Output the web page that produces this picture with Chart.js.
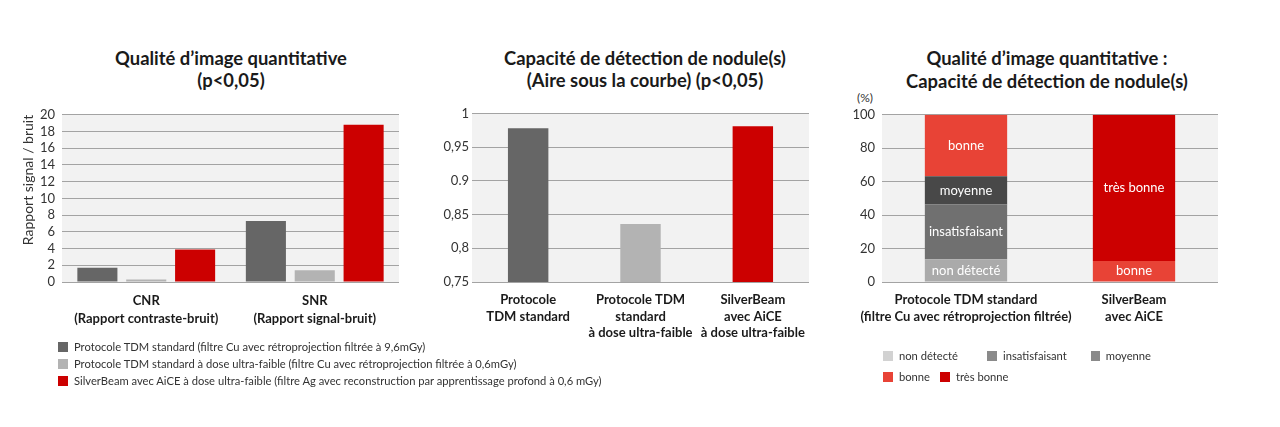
<!DOCTYPE html>
<html>
<head>
<meta charset="utf-8">
<script src="https://cdn.jsdelivr.net/npm/chart.js@4.4.1/dist/chart.umd.min.js"></script>
<style>
  body { margin: 0; background: #fff; width: 1280px; height: 427px; position: relative; overflow: hidden;
         font-family: Lato, "Open Sans", sans-serif; color: #222; }
  .title { position: absolute; width: 400px; text-align: center; font-weight: bold; font-size: 18.4px; line-height: 22px; color: #1a1a1a; }
  canvas { position: absolute; }
  .legend { position: absolute; font-size: 11.2px; color: #333; }
  .legend .row { display: flex; align-items: center; height: 17px; white-space: nowrap; }
  .sw { display: inline-block; width: 10px; height: 10px; margin-right: 6px; }
  .pct { position: absolute; font-size: 12px; color: #333; }
</style>
</head>
<body>

<div class="title" style="left:31px;top:47px">Qualité d’image quantitative<br>(p&lt;0,05)</div>
<div class="title" style="left:445px;top:47px">Capacité de détection de nodule(s)<br>(Aire sous la courbe) (p&lt;0,05)</div>
<div class="title" style="left:847px;top:47px;line-height:23px">Qualité d’image quantitative :<br>Capacité de détection de nodule(s)</div>
<div class="pct" style="left:857px;top:90px">(%)</div>

<canvas id="chartQual" width="393" height="250" style="left:17px;top:100px"></canvas>
<canvas id="chartAuc" width="410" height="250" style="left:410px;top:100px"></canvas>
<canvas id="chartNodule" width="410" height="250" style="left:820px;top:100px"></canvas>

<div class="legend" id="legendQual" style="left:58px;top:338px"></div>
<div class="legend" id="legendNodule" style="left:883px;top:345px"></div>

<script>
// --- données ---
const qualCategories = [['CNR', '(Rapport contraste-bruit)'], ['SNR', '(Rapport signal-bruit)']];
const protocolNames = [
  'Protocole TDM standard (filtre Cu avec rétroprojection filtrée à 9,6mGy)',
  'Protocole TDM standard à dose ultra-faible (filtre Cu avec rétroprojection filtrée à 0,6mGy)',
  'SilverBeam avec AiCE à dose ultra-faible (filtre Ag avec reconstruction par apprentissage profond à 0,6 mGy)'
];
const protocolColors = ['#666666', '#b3b3b3', '#cc0000'];
const qualStandard = [1.7, 7.3];
const qualUltraLow = [0.3, 1.4];
const qualSilverBeam = [3.9, 18.8];

const aucCategories = [
  ['Protocole', 'TDM standard'],
  ['Protocole TDM', 'standard', 'à dose ultra-faible'],
  ['SilverBeam', 'avec AiCE', 'à dose ultra-faible']
];
const aucValues = [0.978, 0.836, 0.981];
const aucTickLabels = ['0,75', '0,8', '0,85', '0.9', '0,95', '1'];

const noduleCategories = [['Protocole TDM standard', '(filtre Cu avec rétroprojection filtrée)'], ['SilverBeam', 'avec AiCE']];
const gradeNames = ['non détecté', 'insatisfaisant', 'moyenne', 'bonne', 'très bonne'];
const gradeColors = ['#aaaaaa', '#707070', '#484848', '#e84336', '#cc0000'];
const gradeLegendColors = ['#d2d2d2', '#8a8a8a', '#8a8a8a', '#e84336', '#cc0000'];
const nonDetecte = [13.6, 0];
const insatisfaisant = [32.8, 0];
const moyenne = [16.8, 0];
const bonne = [36.8, 12.6];
const tresBonne = [0, 87.4];

const FONT = 'Lato, "Open Sans", sans-serif';
const GRID = '#a3a3a3';

// fond gris de la zone de tracé
const plotBg = {
  id: 'plotBg',
  beforeDraw(chart) {
    const { ctx, chartArea: a } = chart;
    ctx.save();
    ctx.fillStyle = '#f2f2f2';
    ctx.fillRect(a.left, a.top, a.right - a.left, a.bottom - a.top);
    ctx.restore();
  }
};

// étiquettes blanches dans les segments empilés
const segmentLabels = {
  id: 'segmentLabels',
  afterDatasetsDraw(chart) {
    const ctx = chart.ctx;
    ctx.save();
    ctx.fillStyle = '#ffffff';
    ctx.font = '13px ' + FONT;
    ctx.textAlign = 'center';
    ctx.textBaseline = 'middle';
    chart.data.datasets.forEach((ds, i) => {
      chart.getDatasetMeta(i).data.forEach((bar, j) => {
        if (!ds.data[j]) return;
        ctx.fillText(ds.label, bar.x, (bar.y + bar.base) / 2);
      });
    });
    ctx.restore();
  }
};

function baseOptions(yWidth, rightPad) {
  return {
    responsive: false,
    animation: false,
    layout: { padding: { top: 13.5, right: rightPad, bottom: 0, left: 0 } },
    plugins: { legend: { display: false }, tooltip: { enabled: false } },
    scales: {
      x: {
        grid: { display: false },
        border: { display: false },
        ticks: { color: '#1a1a1a', padding: 2, autoSkip: false, maxRotation: 0, minRotation: 0,
                 font: { family: FONT, size: 13, weight: 'bold', lineHeight: 1.3 } },
        afterFit(scale) { scale.height = 68; }
      },
      y: {
        grid: { color: GRID, lineWidth: 1, drawTicks: false },
        border: { display: false },
        ticks: { color: '#333', padding: 7, autoSkip: false, font: { family: FONT, size: 13 } },
        afterFit(scale) { scale.width = yWidth; }
      }
    }
  };
}

// --- graphique 1 : CNR / SNR ---
const qualOpts = baseOptions(45, 11);
qualOpts.scales.y.min = 0;
qualOpts.scales.y.max = 20;
qualOpts.scales.y.ticks.stepSize = 2;
qualOpts.scales.y.title = { display: true, text: 'Rapport signal / bruit', align: 'end', color: '#333',
                            padding: { top: 3, bottom: 4 }, font: { family: FONT, size: 14 } };
qualOpts.scales.x.ticks.font.lineHeight = 1.4;
new Chart(document.getElementById('chartQual'), {
  type: 'bar',
  data: {
    labels: qualCategories,
    datasets: [qualStandard, qualUltraLow, qualSilverBeam].map((vals, i) => ({
      label: protocolNames[i],
      data: vals,
      backgroundColor: protocolColors[i],
      categoryPercentage: 0.87,
      barPercentage: 0.82
    }))
  },
  options: qualOpts,
  plugins: [plotBg]
});

// --- graphique 2 : aire sous la courbe ---
const aucOpts = baseOptions(62, 11);
aucOpts.scales.y.min = 0.75;
aucOpts.scales.y.max = 1;
aucOpts.scales.y.ticks.stepSize = 0.05;
aucOpts.scales.y.ticks.padding = 3;
aucOpts.scales.y.ticks.callback = (v, i) => aucTickLabels[i];
aucOpts.scales.x.ticks.font.lineHeight = 1.25;
new Chart(document.getElementById('chartAuc'), {
  type: 'bar',
  data: {
    labels: aucCategories,
    datasets: [{
      data: aucValues,
      backgroundColor: protocolColors,
      categoryPercentage: 1,
      barPercentage: 0.36
    }]
  },
  options: aucOpts,
  plugins: [plotBg]
});

// --- graphique 3 : répartition de la détection ---
const noduleOpts = baseOptions(62, 12);
noduleOpts.scales.x.stacked = true;
noduleOpts.scales.y.stacked = true;
noduleOpts.scales.y.min = 0;
noduleOpts.scales.y.max = 100;
noduleOpts.scales.y.ticks.stepSize = 20;
noduleOpts.scales.x.ticks.font.lineHeight = 1.25;
new Chart(document.getElementById('chartNodule'), {
  type: 'bar',
  data: {
    labels: noduleCategories,
    datasets: [nonDetecte, insatisfaisant, moyenne, bonne, tresBonne].map((vals, i) => ({
      label: gradeNames[i],
      data: vals,
      backgroundColor: gradeColors[i],
      categoryPercentage: 1,
      barPercentage: 0.49
    }))
  },
  options: noduleOpts,
  plugins: [plotBg, segmentLabels]
});

// --- légendes ---
const legendQual = document.getElementById('legendQual');
protocolNames.forEach((name, i) => {
  const row = document.createElement('div');
  row.className = 'row';
  row.innerHTML = '<span class="sw" style="background:' + protocolColors[i] + '"></span>' + name;
  legendQual.appendChild(row);
});

const legendNodule = document.getElementById('legendNodule');
const noduleRows = [[0, 1, 2], [3, 4]];
const noduleItemWidths = [[104, 104, 60], [57, 70]];
noduleRows.forEach((idx, r) => {
  const row = document.createElement('div');
  row.className = 'row';
  row.style.height = '21px';
  idx.forEach((g, k) => {
    const item = document.createElement('span');
    item.style.display = 'inline-flex';
    item.style.alignItems = 'center';
    item.style.width = noduleItemWidths[r][k] + 'px';
    item.innerHTML = '<span class="sw" style="background:' + gradeLegendColors[g] + '"></span>' + gradeNames[g];
    row.appendChild(item);
  });
  legendNodule.appendChild(row);
});
</script>
</body>
</html>
